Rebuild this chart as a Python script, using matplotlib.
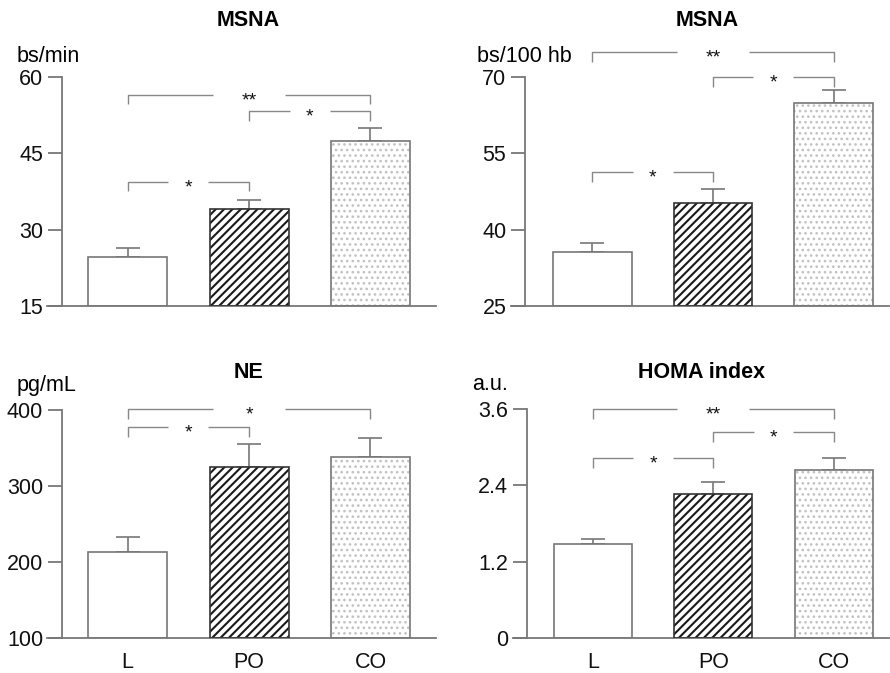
import matplotlib
matplotlib.use("Agg")
import matplotlib.pyplot as plt

plt.rcParams['font.family'] = ['Liberation Sans', 'DejaVu Sans']
plt.rcParams['hatch.linewidth'] = 1.5

# ---------------- data ----------------
categories = ['L', 'PO', 'CO']

msna_min = [24.6, 34.1, 47.5]
msna_min_err = [1.8, 1.7, 2.5]

msna_hb = [35.6, 45.3, 64.9]
msna_hb_err = [1.8, 2.7, 2.5]

ne = [213, 325, 338]
ne_err = [20, 30, 25]

homa = [1.48, 2.26, 2.64]
homa_err = [0.08, 0.19, 0.19]

ticks_msna_min = [15, 30, 45, 60]
ticks_msna_hb = [25, 40, 55, 70]
ticks_ne = [100, 200, 300, 400]
ticks_homa = [0, 1.2, 2.4, 3.6]
ticklabels_homa = ['0', '1.2', '2.4', '3.6']

# brackets: (from, to, y, label)
br_msna_min = [(0, 2, 56.5, '**'), (1, 2, 53.3, '*'), (0, 1, 39.4, '*')]
br_msna_hb = [(0, 2, 74.9, '**'), (1, 2, 70.0, '*'), (0, 1, 51.3, '*')]
br_ne = [(0, 2, 401, '*'), (0, 1, 377, '*')]
br_homa = [(0, 2, 3.6, '**'), (1, 2, 3.24, '*'), (0, 1, 2.83, '*')]

# ---------------- style ----------------
GRAY = '#777777'
BRK = '#888888'
TXT = '#111111'
W, H = 890, 673
FS = 15.5

fig = plt.figure(figsize=(8.9, 6.73), dpi=100)


def px_axes(l, t, r, b):
    return fig.add_axes([l / W, 1 - b / H, (r - l) / W, (b - t) / H])


def panel(ax, vals, errs, ticks, ticklabels, brackets, xlim, show_x):
    x = list(range(len(categories)))
    ymin, ymax = ticks[0], ticks[-1]
    width = 0.65
    # plain bar
    ax.bar(x[0], vals[0] - ymin, bottom=ymin, width=width, color='white',
           edgecolor=GRAY, linewidth=1.2, zorder=2)
    # hatched bar
    ax.bar(x[1], vals[1] - ymin, bottom=ymin, width=width, color='white',
           edgecolor='#1a1a1a', linewidth=0, hatch='////', zorder=2)
    ax.bar(x[1], vals[1] - ymin, bottom=ymin, width=width, fill=False,
           edgecolor='#333333', linewidth=1.2, zorder=3)
    # dotted bar
    dots = ax.bar(x[2], vals[2] - ymin, bottom=ymin, width=width, color='white',
                  edgecolor='#c2c2c2', linewidth=0, hatch='...', zorder=2)
    for p in dots:
        if hasattr(p, 'set_hatch_linewidth'):
            p.set_hatch_linewidth(1.1)
    ax.bar(x[2], vals[2] - ymin, bottom=ymin, width=width, fill=False,
           edgecolor=GRAY, linewidth=1.2, zorder=3)
    ax.errorbar(x, vals, yerr=[[0] * len(vals), errs], fmt='none',
                ecolor=GRAY, elinewidth=1.2, capsize=8.5, capthick=1.2,
                zorder=1)

    ax.set_xlim(*xlim)
    ax.set_ylim(ymin, ymax)
    ax.set_yticks(ticks)
    ax.set_yticklabels(ticklabels)
    for s in ['top', 'right']:
        ax.spines[s].set_visible(False)
    for s in ['left', 'bottom']:
        ax.spines[s].set_color(GRAY)
        ax.spines[s].set_linewidth(1.3)
    ax.spines['bottom'].set_bounds(xlim[0] - 0.12, xlim[1])
    ax.spines['bottom'].set_clip_on(False)
    ax.tick_params(axis='y', length=10, width=1.3, color=GRAY, pad=3.5,
                   labelsize=FS, labelcolor=TXT)
    if show_x:
        ax.set_xticks(x)
        ax.set_xticklabels(categories)
        ax.tick_params(axis='x', length=0, pad=10, labelsize=FS,
                       labelcolor=TXT)
    else:
        ax.set_xticks([])

    yr = ymax - ymin
    drop = 0.042 * yr
    for (i, j, y, lab) in brackets:
        gap = 0.30 if (j - i) == 2 else 0.165
        mid = (i + j) / 2
        ax.plot([i, i, mid - gap], [y - drop, y, y], color=BRK, lw=1.0,
                clip_on=False, solid_capstyle='butt')
        ax.plot([mid + gap, j, j], [y, y, y - drop], color=BRK, lw=1.0,
                clip_on=False, solid_capstyle='butt')
        ax.annotate(lab, (mid, y), xytext=(0, -7.5), textcoords='offset points',
                    ha='center', va='baseline', fontsize=14, color=TXT,
                    annotation_clip=False)


ax1 = px_axes(62, 77, 436, 306)
panel(ax1, msna_min, msna_min_err, ticks_msna_min,
      [str(t) for t in ticks_msna_min], br_msna_min, (-0.541, 2.54), False)

ax2 = px_axes(525, 77, 889, 306)
panel(ax2, msna_hb, msna_hb_err, ticks_msna_hb,
      [str(t) for t in ticks_msna_hb], br_msna_hb, (-0.56, 2.46), False)

ax3 = px_axes(62, 410, 436, 638)
panel(ax3, ne, ne_err, ticks_ne, [str(t) for t in ticks_ne], br_ne,
      (-0.541, 2.54), True)

ax4 = px_axes(527, 409, 889, 638)
panel(ax4, homa, homa_err, ticks_homa, ticklabels_homa, br_homa,
      (-0.548, 2.46), True)


def ftext(x, y, s, **kw):
    fig.text(x / W, 1 - y / H, s, **kw)

# titles
ftext(248, 21, 'MSNA', ha='center', va='center', fontsize=FS, fontweight='bold')
ftext(707, 21, 'MSNA', ha='center', va='center', fontsize=FS, fontweight='bold')
ftext(249, 373, 'NE', ha='center', va='center', fontsize=FS, fontweight='bold')
ftext(702, 373, 'HOMA index', ha='center', va='center', fontsize=FS, fontweight='bold')

# unit labels
ftext(17, 57, 'bs/min', ha='left', va='center', fontsize=FS)
ftext(477, 56, 'bs/100 hb', ha='left', va='center', fontsize=FS)
ftext(17, 385, 'pg/mL', ha='left', va='center', fontsize=FS)
ftext(472, 385, 'a.u.', ha='left', va='center', fontsize=FS)

fig.savefig('out.png', dpi=100)
